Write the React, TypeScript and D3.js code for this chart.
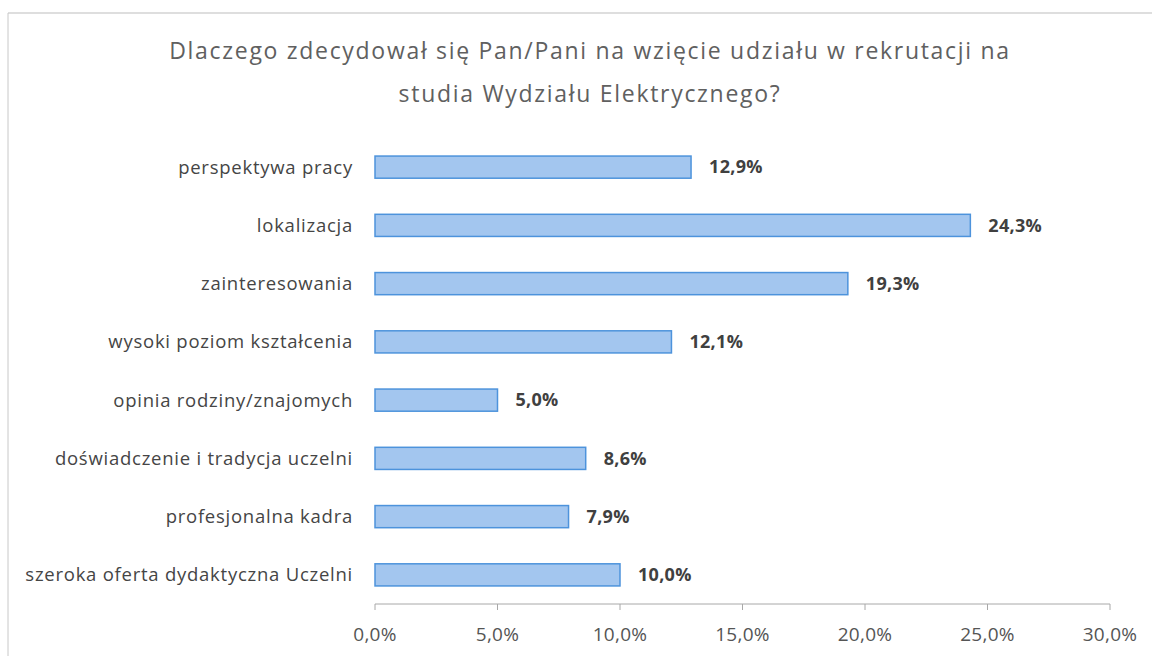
import React from "react";
import * as d3 from "d3";

const categories = [
  "perspektywa pracy",
  "lokalizacja",
  "zainteresowania",
  "wysoki poziom kształcenia",
  "opinia rodziny/znajomych",
  "doświadczenie i tradycja uczelni",
  "profesjonalna kadra",
  "szeroka oferta dydaktyczna Uczelni",
];
const values = [12.9, 24.3, 19.3, 12.1, 5.0, 8.6, 7.9, 10.0];
const ticks = [0, 5, 10, 15, 20, 25, 30];
const titleLines = [
  "Dlaczego zdecydował się Pan/Pani na wzięcie udziału w rekrutacji na",
  "studia Wydziału Elektrycznego?",
];

const W = 1152;
const H = 656;
const FONT = "'Open Sans', 'Noto Sans', sans-serif";

export default function App() {
  const x = d3.scaleLinear().domain([0, 30]).range([375, 1110]);
  const y = d3
    .scaleBand()
    .domain(categories)
    .range([138, 604])
    .paddingInner(0.62)
    .paddingOuter(0.31);
  const fmt = (v: number) => v.toFixed(1).replace(".", ",") + "%";
  const axisY = 604;
  return (
    <svg
      width={W}
      height={H}
      style={{ position: "absolute", left: 0, top: 0, background: "#fff" }}
    >
      <rect x={0} y={0} width={W} height={H} fill="#fff" />
      <line x1={8} y1={13} x2={W} y2={13} stroke="#bdbdbd" strokeWidth={1} />
      <line x1={8} y1={13} x2={8} y2={H} stroke="#c8c8c8" strokeWidth={1} />
      {titleLines.map((t, i) => (
        <text
          key={i}
          x={590}
          y={59 + i * 43}
          textAnchor="middle"
          fontFamily={FONT}
          fontSize={23}
          letterSpacing={1.7}
          fill="#606060"
        >
          {t}
        </text>
      ))}
      {categories.map((c, i) => {
        const by = y(c)!;
        const bh = y.bandwidth();
        return (
          <g key={c}>
            <text
              x={353}
              y={by + bh / 2}
              dy="0.35em"
              textAnchor="end"
              fontFamily={FONT}
              fontSize={18.5}
              letterSpacing={0.75}
              fill="#454545"
            >
              {c}
            </text>
            <rect
              x={x(0)}
              y={by}
              width={x(values[i]) - x(0)}
              height={bh}
              fill="#a3c6ef"
              stroke="#4d93dc"
              strokeWidth={1.5}
            />
            <text
              x={x(values[i]) + 18}
              y={by + bh / 2}
              dy="0.35em"
              fontFamily={FONT}
              fontSize={18}
              fontWeight="bold"
              letterSpacing={0.3}
              fill="#404040"
            >
              {fmt(values[i])}
            </text>
          </g>
        );
      })}
      <line x1={x(0)} y1={axisY} x2={x(30)} y2={axisY} stroke="#a8a8a8" strokeWidth={1} />
      {ticks.map((t) => (
        <g key={t}>
          <line x1={x(t)} y1={axisY} x2={x(t)} y2={axisY + 6} stroke="#a8a8a8" strokeWidth={1} />
          <text
            x={x(t)}
            y={641}
            textAnchor="middle"
            fontFamily={FONT}
            fontSize={19}
            letterSpacing={0.3}
            fill="#555555"
          >
            {fmt(t)}
          </text>
        </g>
      ))}
    </svg>
  );
}
